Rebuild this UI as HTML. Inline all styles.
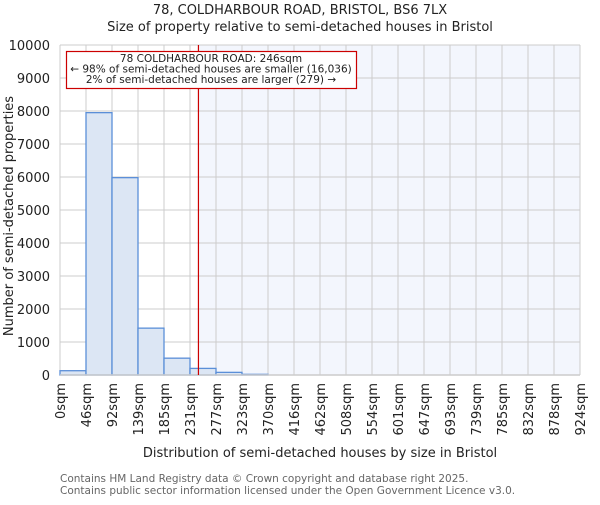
<!DOCTYPE html>
<html><head><meta charset="utf-8"><style>
body{margin:0;background:#fff;}
svg text{font-family:"DejaVu Sans","Liberation Sans",sans-serif;fill:#222;}
</style></head><body>
<svg id="chart" width="600" height="500" viewBox="0 0 600 500" xmlns="http://www.w3.org/2000/svg">
<text x="300" y="14" font-size="13" text-anchor="middle">78, COLDHARBOUR ROAD, BRISTOL, BS6 7LX</text>
<text x="300" y="31" font-size="13" text-anchor="middle">Size of property relative to semi-detached houses in Bristol</text>
<g id="plot"></g>
<text x="320" y="457" font-size="13" text-anchor="middle">Distribution of semi-detached houses by size in Bristol</text>
<text transform="translate(13,216) rotate(-90)" font-size="13" text-anchor="middle" fill="#444">Number of semi-detached properties</text>
<text x="60" y="482" font-size="10.5" style="fill:#666">Contains HM Land Registry data © Crown copyright and database right 2025.</text>
<text x="60" y="494" font-size="10.5" style="fill:#666">Contains public sector information licensed under the Open Government Licence v3.0.</text>
</svg>
<script>
const binLabels=["0sqm","46sqm","92sqm","139sqm","185sqm","231sqm","277sqm","323sqm","370sqm","416sqm","462sqm","508sqm","554sqm","601sqm","647sqm","693sqm","739sqm","785sqm","832sqm","878sqm","924sqm"];
const counts=[130,7950,5980,1420,510,200,80,20,0,0,0,0,0,0,0,0,0,0,0,0];
const yTicks=[0,1000,2000,3000,4000,5000,6000,7000,8000,9000,10000];
const propertySize=246;
const maxSize=924;
const L=60,R=580,T=45,B=375,yMax=10000;
const NS="http://www.w3.org/2000/svg";
const g=document.getElementById('plot');
const xs=v=>L+v/maxSize*(R-L);
const xb=i=>L+i*(R-L)/counts.length;
const ys=v=>B-v/yMax*(B-T);
function mk(t,a){const e=document.createElementNS(NS,t);for(const k in a)e.setAttribute(k,a[k]);g.appendChild(e);return e;}
let e;
e=mk('rect',{x:xs(propertySize),y:T,width:R-xs(propertySize),height:B-T,fill:'#f3f6fd'});


yTicks.forEach(v=>{
 e=mk('line',{x1:L,x2:R,y1:ys(v),y2:ys(v),stroke:'#cccccc','stroke-width':1});
 
 
 e=mk('text',{x:L-10,y:ys(v)+5,'text-anchor':'end','font-size':13});
 e.textContent=v;
 
 
});
binLabels.forEach((lab,i)=>{
 const x=xb(i);
 e=mk('line',{x1:x,x2:x,y1:T,y2:B,stroke:'#cccccc','stroke-width':1});
 
 
 e=mk('text',{transform:`translate(${x+5},${B+8}) rotate(-90)`,'text-anchor':'end','font-size':13});
 e.textContent=lab;
 
 
});
counts.forEach((c,i)=>{
 e=mk('rect',{x:xb(i),y:ys(c),width:xb(i+1)-xb(i),height:B-ys(c),fill:'#dce6f4',stroke:'#5b8fd8','stroke-width':1.3});
 
 
});
e=mk('line',{x1:L,x2:R,y1:B,y2:B,stroke:'#cccccc','stroke-width':1.5});


e=mk('line',{x1:xs(propertySize),x2:xs(propertySize),y1:T,y2:B,stroke:'#cc0000','stroke-width':1.2});


e=mk('rect',{x:66.5,y:51.5,width:290,height:37,fill:'#fff',stroke:'#cc0000','stroke-width':1.2});


["78 COLDHARBOUR ROAD: 246sqm","← 98% of semi-detached houses are smaller (16,036)","2% of semi-detached houses are larger (279) →"].forEach((t,i)=>{
 e=mk('text',{x:211,y:62+i*10.5,'text-anchor':'middle','font-size':10.5});
 e.textContent=t;
 
 
});
</script>
</body></html>
